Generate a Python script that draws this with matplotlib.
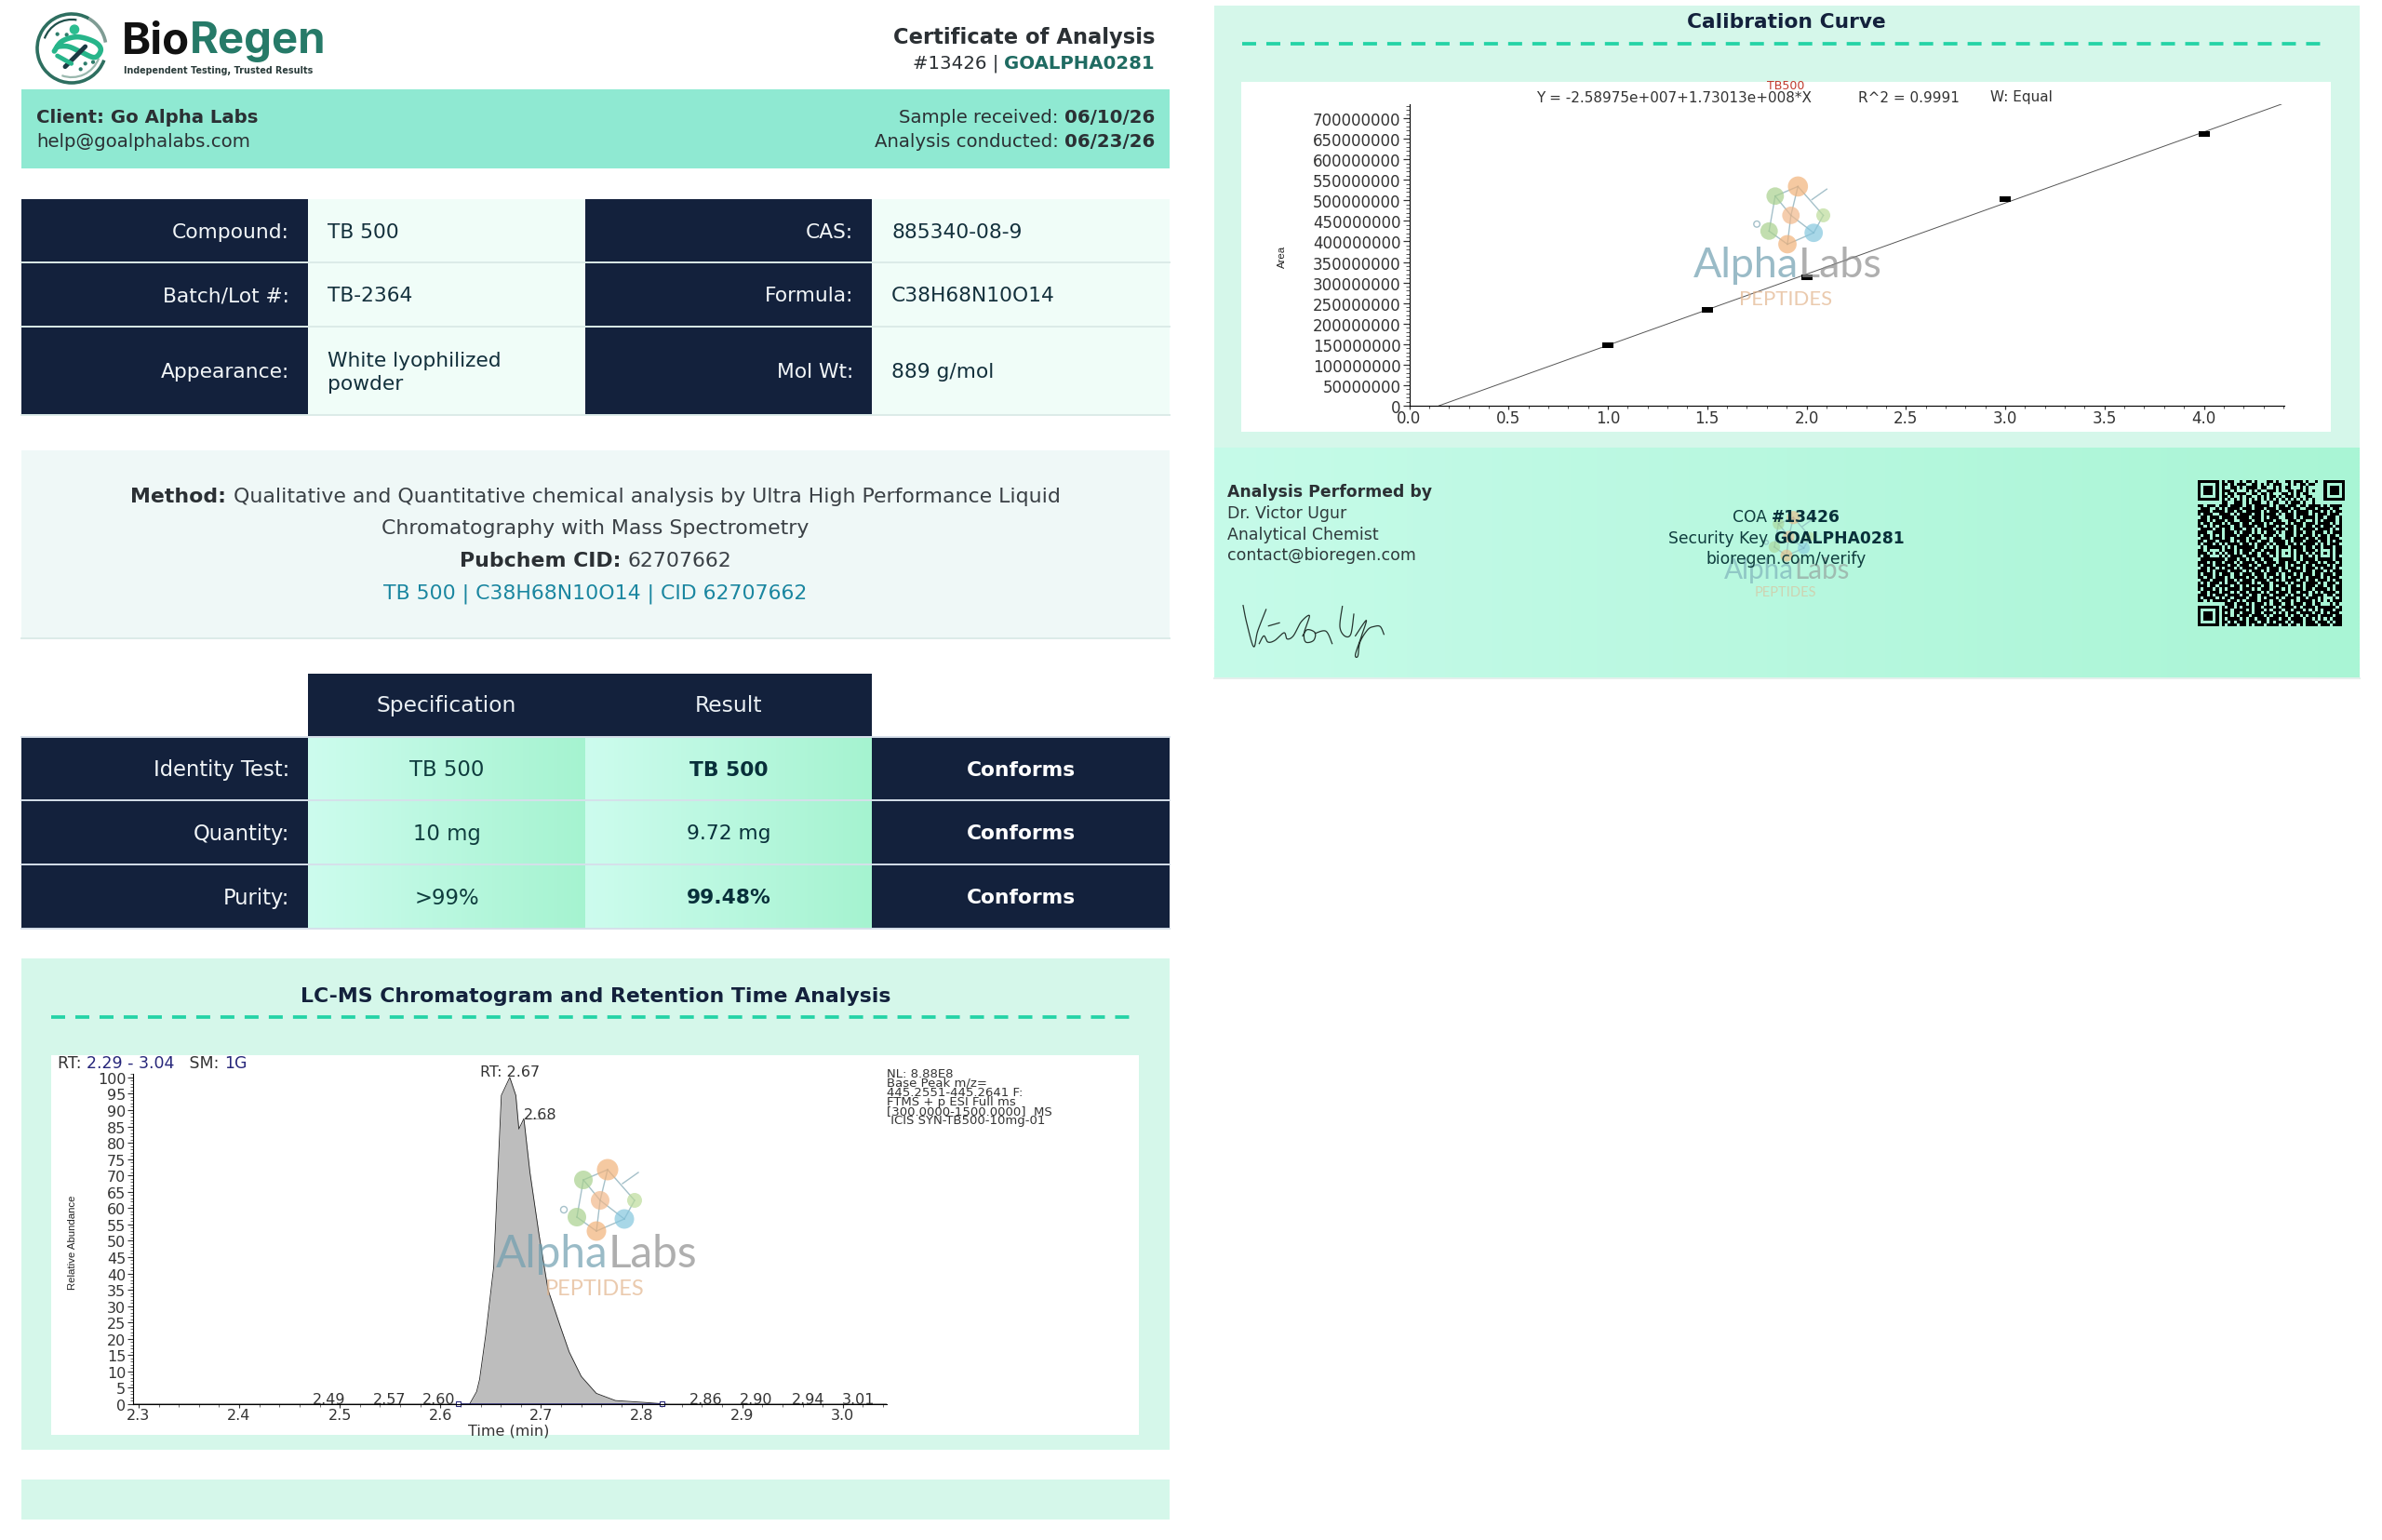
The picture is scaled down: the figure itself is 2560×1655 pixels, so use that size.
import matplotlib
matplotlib.use('Agg')
import matplotlib.pyplot as plt
import numpy as np
from matplotlib.colors import to_rgb
from matplotlib.patches import Rectangle, Circle, Arc
from matplotlib.path import Path
from matplotlib.ticker import MultipleLocator

plt.rcParams['font.family'] = ['DejaVu Sans']

NAVY = '#13213c'
INK = '#2b3034'
TEAL_TEXT = '#0f3d3e'
PANEL = '#d5f7ea'
MINT_A = '#cdfcee'
MINT_B = '#a5f3d0'
DASH = '#24d3a6'
PLOT_TEXT = '#333333'

# chromatogram
rt_min = [2.2945, 2.629, 2.636, 2.639, 2.645, 2.653, 2.6606, 2.669, 2.675, 2.678, 2.683, 2.689, 2.698,
          2.707, 2.719, 2.728, 2.74, 2.755, 2.774, 2.804, 2.826, 3.0437]
abundance = [0, 0, 3.8, 7.6, 21, 42, 94.5, 100, 94.5, 84.2, 87.4, 71, 52, 35, 24, 16, 8.5, 3.3, 1.1, 0.5, 0, 0]
rt_peak_labels = ['2.49', '2.57', '2.60', '2.86', '2.90', '2.94', '3.01']
rt_peak_pos = [2.489, 2.549, 2.598, 2.864, 2.914, 2.966, 3.016]
nl_lines = ['NL: 8.88E8', 'Base Peak m/z=', '445.2551-445.2641 F:', 'FTMS + p ESI Full ms',
            '[300.0000-1500.0000]  MS', ' ICIS SYN-TB500-10mg-01']

# calibration curve
conc = [1.0, 1.5, 2.0, 3.0, 4.0]
area = [148e6, 233e6, 313e6, 502e6, 662e6]
fit_x = [0.15, 4.39]
fit_y = [0, 734e6]

# tables
info_rows = [('Compound:', 'TB 500', 'CAS:', '885340-08-9'),
             ('Batch/Lot #:', 'TB-2364', 'Formula:', 'C38H68N10O14'),
             ('Appearance:', 'White lyophilized\npowder', 'Mol Wt:', '889 g/mol')]
test_names = ['Identity Test:', 'Quantity:', 'Purity:']
test_spec = ['TB 500', '10 mg', '>99%']
test_result = ['TB 500', '9.72 mg', '99.48%']
test_result_bold = [True, False, True]

qr_rows = [
    '........#.##..#.##.#...##.#..##.###.#..#.........',
    '........##.#.###..##.#.#.###..#.#.##.##.........',
    '........#..##.#.####.##..#.#.##...#.#...........',
    '........###.#...#.#.#..###.#..##.##.#.#.........',
    '........#.##.###..##.##.#...##.#.#.##...........',
    '........##.#..#.##..#.#.##.#.###.#..##..........',
    '........#.#.#.#.#.#.#.#.#.#.#.#.#.#.#.#.........',
    '........##..###.#.###..#.##..#.###.#..#.........',
    '##.###.###.####.##.#####.#.##.###.##.####.#.####',
    '.###..#.#.####.###.###.###.####.##..###.####.##.',
    '####.####.##.##.#####.#.###.##.#.####.###.#.#.##',
    '#.###..####.#.####.##.####.#.###.####.#.###.###.',
    '.##.###.####.####.###.#.###..###.#.####.##.###.#',
    '###.#.###.##..####.##.###.##..###.##..#.#.####.#',
    '#.##.###.#.###.##.####.#.####.#.###.###.####.#.#',
    '##.#.#.####.##.####.##.###.#.###.##.##.##.###.##',
    '.####.##.##.###.##.#.####.###.##.#.####.####.#.#',
    '###..###.###.#.###.#.#.###.#.###.##.##.###.#.###',
    '#.##.#.#.####.###.###.###.#..###.#.###.#.##.##.#',
    '.###.###.##.####.#.##..#.###.##.####.##.###.###.',
    '##.###.####.#.##.###.###.####.#.###.####.##.#.##',
    '#.###.#.#.####.##.#.###.#.###.##.#.####.#.#.###.',
    '.#.#####.#.#.######.##.#.#.###.####.##.##.###.##',
    '##.#...#.###.#.###.##.####.#...#.##.###.#...#.##',
    '###.#.#.#.##.#.##.##.##.##.#.#.#.###.#.##.#.#.##',
    '#.##...#.#.####.####.###.#.#...#.#.##.#.#...#.#.',
    '.########.###.##.#.##.###..#####.#.####.#####.##',
    '###.#.##.###.#.####.##.###.##.###.##.###.#.###.#',
    '#.###.####.##.###.##.####.###.#.###.##.####.#.##',
    '.##.##.#.###.#.####.###.###.#.###.#.###.#.###.#.',
    '###.#.####.####.#.###.#.###.##.####.##.###.#.###',
    '#.###.#.###.##.###.###.###.#.###.#.###.##.###.##',
    '##.##.###.#.####.##.##.#.###.#.###.#.####.#.###.',
    '.###.####.##.#.###.####.##.#.####.##.##.###.#.##',
    '#.#.###.#.###.####.#.###.####.#.###.####.#.###.#',
    '###.##.####.##.#.####.##.#.###.##.#.###.##.##.##',
    '#.###.#.#.####.###.#.###.###.#.####.##.####.#.##',
    '.##.###.###.#.##.####.#.##.###.##.###.#.#.####.#',
    '###.#.###.####.##.##.###.####.#.###.#.####.##.##',
    '#.####.#.##.####.###.#.###.#.####.##.###.#...#.#',
    '##.#.#####.##.#.####.###.##.###.#.####.#.#.#.###',
    '.........###.###.#.###.#.###.##.###.##.##...#.#.',
    '........#.##.#.###.##.###.#.####.#.####.######.#',
    '........###.####.#.###.#.###.##.###.#.#.#.###.##',
    '........#.#.##.###.##.###.#.#.###.####.##.#.###.',
    '........###.#.###.####.#.####.#.##.#.###.####.##',
    '........#.####.#.##.###.###.##.####.##.#.#.#.###',
    '........##.#.###.###.##.#.###.#.###.###.###.#.##',
    '........#.###.##.#.###.####.##.##.#.####.###.###',
]

sig_strokes = [
    [(48, 32), (60, 90), (82, 165), (95, 115), (122, 45)],
    [(100, 155), (115, 130), (128, 150), (150, 145), (180, 120), (190, 140), (210, 130), (235, 85),
     (262, 65), (245, 120), (250, 150), (275, 145), (280, 120), (255, 110), (240, 130)],
    [(280, 122), (315, 115), (335, 155)],
    [(368, 35), (360, 100), (375, 130), (395, 125), (405, 60)],
    [(410, 130), (445, 80), (430, 130), (410, 190), (418, 195), (425, 150), (450, 110), (470, 100),
     (490, 100), (502, 125)],
    [(130, 98), (165, 88)],
]

fig = plt.figure(figsize=(25.6, 16.56), dpi=100)
ax = fig.add_axes([0, 0, 1, 1], zorder=0)
top = fig.add_axes([0, 0, 1, 1], zorder=3)


def page_limits():
    # whole page runs one pixel low of the numbers below
    for a in (ax, top):
        a.set_xlim(0, 2560)
        a.set_ylim(1655, -1)


page_limits()
ax.axis('off')
top.axis('off')
top.patch.set_alpha(0)


def box(x0, y0, x1, y1, color, a=ax, **kw):
    a.add_patch(Rectangle((x0, y0), x1 - x0, y1 - y0, facecolor=color, edgecolor='none', **kw))


def grad(x0, y0, x1, y1, c0=MINT_A, c1=MINT_B):
    t = np.linspace(0, 1, 256)[None, :, None]
    img = (1 - t) * np.array(to_rgb(c0)) + t * np.array(to_rgb(c1))
    ax.imshow(img, extent=[x0, x1, y1, y0], aspect='auto', interpolation='bilinear', zorder=1)
    page_limits()


def put(x, y, s, size=15.7, color=INK, ha='left', weight='normal', a=ax, **kw):
    return a.text(x, y, s, fontsize=size, color=color, ha=ha, va='center', fontweight=weight, zorder=5, **kw)


def mixed(x, y, parts, size, ha='left', a=ax, **kw):
    # parts are (text, weight, color), measured so they sit side by side
    r = fig.canvas.get_renderer()
    items = [put(0, y, s, size, c, weight=w, a=a, **kw) for s, w, c in parts]
    widths = [t.get_window_extent(r).width for t in items]
    total = sum(widths)
    cur = x
    if ha == 'right':
        cur = x - total
    elif ha == 'center':
        cur = x - total / 2
    for t, w in zip(items, widths):
        t.set_x(cur)
        cur += w


def smooth(pts, n=12):
    # catmull-rom through the pen points
    p = np.array([pts[0]] + list(pts) + [pts[-1]], dtype=float)
    out = []
    for i in range(1, len(p) - 2):
        for u in np.linspace(0, 1, n, endpoint=False):
            out.append(0.5 * (2 * p[i] + (p[i + 1] - p[i - 1]) * u
                              + (2 * p[i - 1] - 5 * p[i] + 4 * p[i + 1] - p[i + 2]) * u ** 2
                              + (3 * p[i] - p[i - 1] - 3 * p[i + 1] + p[i + 2]) * u ** 3))
    out.append(p[-2])
    return np.array(out)


def watermark(cx, cy, s, alpha=0.7):
    balls = [(12, -90, 11.5, '#f2b27a'), (-14, -79, 10, '#a9d18e'), (4, -57, 10, '#f2b88a'),
             (41, -57, 8, '#bcdc9a'), (-21, -39, 10, '#a9d18e'), (30, -37, 10.5, '#84c6de'),
             (0, -24, 10.5, '#f2b27a')]
    links = [(0, 1), (0, 2), (1, 2), (1, 4), (2, 5), (4, 6), (5, 6), (2, 6), (3, 5), (0, 3)]
    for i, j in links:
        top.plot([cx + s * balls[i][0], cx + s * balls[j][0]], [cy + s * balls[i][1], cy + s * balls[j][1]],
                 color='#7fa6b3', lw=1.0, alpha=alpha, zorder=2)
    for dx, dy, r, c in balls:
        top.add_patch(Circle((cx + s * dx, cy + s * dy), r * s, facecolor=c, edgecolor='none', alpha=alpha, zorder=3))
    top.add_patch(Circle((cx - 35 * s, cy - 47 * s), 3.5 * s, facecolor='none', edgecolor='#7fa6b3', lw=1, alpha=alpha))
    top.plot([cx + 28 * s, cx + 45 * s], [cy - 75 * s, cy - 87 * s], color='#7fa6b3', lw=1, alpha=alpha)
    r = fig.canvas.get_renderer()
    size = 34.4 * s
    a1 = top.text(0, cy, 'Alpha', fontsize=size, color='#6f9fb0', alpha=alpha, va='center', family='Lato')
    a2 = top.text(0, cy, 'Labs', fontsize=size, color='#8d8d8d', alpha=alpha, va='center', family='Lato')
    w1 = a1.get_window_extent(r).width
    w2 = a2.get_window_extent(r).width
    a1.set_x(cx - (w1 + w2) / 2)
    a2.set_x(cx - (w1 + w2) / 2 + w1)
    top.text(cx - 2 * s, cy + 38 * s, 'PEPTIDES', fontsize=17 * s, color='#e2b48c', alpha=alpha,
             ha='center', va='center', family='Lato')


# logo
lx, ly = 77, 52
ax.add_patch(Arc((lx, ly), 74, 74, theta1=20, theta2=300, color='#2e6f60', lw=2.6))
ax.add_patch(Arc((lx, ly), 74, 74, theta1=300, theta2=350, color='#7f9c94', lw=2.6))
ax.add_patch(Arc((lx, ly), 62, 62, theta1=200, theta2=280, color='#1f4f4a', lw=1.6))
ax.add_patch(Arc((lx, ly), 62, 62, theta1=20, theta2=110, color='#9ab8ae', lw=1.6))
band = smooth([(85, 150), (110, 118), (160, 104), (215, 120), (235, 145), (215, 170), (170, 152), (130, 135), (95, 135)])
ax.plot(band[:, 0] / 3 + 30, band[:, 1] / 3 + 5, color='#27b58a', lw=4, solid_capstyle='round')
ax.plot(np.array([120, 185]) / 3 + 30, np.array([200, 135]) / 3 + 5, color='#1c3a43', lw=3.5, solid_capstyle='round')
ax.plot(np.array([95, 140]) / 3 + 30, np.array([165, 190]) / 3 + 5, color='#27b58a', lw=3.5, solid_capstyle='round')
ax.add_patch(Circle((150 / 3 + 30, 80 / 3 + 5), 4.6, color='#2cbd90'))
for dx, dy in [(95, 95), (125, 97), (185, 190), (210, 185), (170, 208)]:
    ax.add_patch(Circle((dx / 3 + 30, dy / 3 + 5), 1.4, color='#2e7d6b'))
mixed(131, 44, [('Bio', 'bold', '#111111'), ('Regen', 'bold', '#267a68')], 34, family='Inter')
mixed(133, 75, [('Independent Testing, Trusted Results', 'bold', '#2a3b3a')], 6.9)

# header right
put(1241, 39, 'Certificate of Analysis', 16.3, INK, 'right', 'bold')
mixed(1241, 67, [('#13426 | ', 'normal', INK), ('GOALPHA0281', 'bold', '#1f6b62')], 14.2, 'right')

# client banner
box(23, 96, 1257, 181, '#8fe9d2')
put(39, 126, 'Client: Go Alpha Labs', 14.2, INK, weight='bold')
put(39, 152, 'help@goalphalabs.com', 14.2)
mixed(1241, 126, [('Sample received: ', 'normal', INK), ('06/10/26', 'bold', INK)], 14.2, 'right')
mixed(1241, 152, [('Analysis conducted: ', 'normal', INK), ('06/23/26', 'bold', INK)], 14.2, 'right')

# info table
col = [23, 331, 629, 937, 1257]
rows = [214, 282, 351, 446]
box(col[1], rows[0], col[2], rows[-1], '#f0fdf8')
box(col[3], rows[0], col[4], rows[-1], '#f0fdf8')
box(col[0], rows[0], col[1], rows[-1], NAVY)
box(col[2], rows[0], col[3], rows[-1], NAVY)
for i, (k1, v1, k2, v2) in enumerate(info_rows):
    y = (rows[i] + rows[i + 1]) / 2 + 1
    put(col[1] - 20, y, k1, color='#f2f6f8', ha='right')
    put(col[1] + 21, y, v1, color='#13303c', linespacing=1.35)
    put(col[3] - 20, y, k2, color='#f2f6f8', ha='right')
    put(col[3] + 21, y, v2, color='#13303c')
for y in rows[1:]:
    ax.plot([col[0], col[-1]], [y, y], color='#dcebe8', lw=1.4, zorder=2)

# method box
box(23, 484, 1257, 686, '#eff8f7')
ax.plot([23, 1257], [686, 686], color='#dcebe8', lw=1.4)
mixed(640, 533, [('Method: ', 'bold', INK),
                 ('Qualitative and Quantitative chemical analysis by Ultra High Performance Liquid', 'normal', '#3a4045')],
      15.8, 'center')
put(640, 567, 'Chromatography with Mass Spectrometry', 15.8, '#3a4045', 'center')
mixed(640, 602, [('Pubchem CID: ', 'bold', INK), ('62707662', 'normal', '#3a4045')], 15.8, 'center')
put(640, 637, 'TB 500 | C38H68N10O14 | CID 62707662', 15.8, '#1a86a0', 'center')

# results table
t_rows = [792, 860, 929, 998]
box(col[1], 724, col[3], 792, NAVY)
put((col[1] + col[2]) / 2, 758, 'Specification', 16.8, '#e9eff3', 'center')
put((col[2] + col[3]) / 2, 758, 'Result', 16.8, '#e9eff3', 'center')
box(col[0], t_rows[0], col[1], t_rows[-1], NAVY)
box(col[3], t_rows[0], col[4], t_rows[-1], NAVY)
for i in range(3):
    y0, y1 = t_rows[i], t_rows[i + 1]
    grad(col[1], y0, col[2], y1)
    grad(col[2], y0, col[3], y1)
    y = (y0 + y1) / 2 + 1
    put(col[1] - 20, y, test_names[i], 16.3, '#f2f6f8', 'right')
    put((col[1] + col[2]) / 2, y, test_spec[i], 16.4, TEAL_TEXT, 'center')
    put((col[2] + col[3]) / 2, y, test_result[i], 15.7, '#08303a', 'center',
        weight='bold' if test_result_bold[i] else 'normal')
    put((col[3] + col[4]) / 2, y, 'Conforms', color='#ffffff', ha='center', weight='bold')
for y in t_rows:
    ax.plot([col[0], col[-1]], [y, y], color='#d6e0ea', lw=1.4, zorder=3)

# LC-MS panel
box(23, 1030, 1257, 1558, PANEL)
put(640, 1070, 'LC-MS Chromatogram and Retention Time Analysis', 15.8, NAVY, 'center', 'bold')
ax.plot([55, 1217], [1093, 1093], color=DASH, lw=2.7, dashes=(4, 2.93), dash_capstyle='butt')
box(55, 1134, 1224, 1542, '#ffffff')
box(23, 1590, 1257, 1633, PANEL)

# right column
box(1305, 6, 2536, 482, PANEL)
put(1920, 23, 'Calibration Curve', 15.7, NAVY, 'center', 'bold')
ax.plot([1335, 2497], [47, 47], color=DASH, lw=2.7, dashes=(4, 2.93), dash_capstyle='butt')
box(1334, 88, 2505, 464, '#ffffff')
grad(1305, 482, 2536, 728, '#c6fbe9', '#a9f5d5')
ax.plot([1305, 2536], [729, 729], color='#e4efec', lw=1.4)

put(1319, 528, 'Analysis Performed by', 12.4, INK, weight='bold')
put(1319, 551, 'Dr. Victor Ugur', 12.5, '#2f3a3c')
put(1319, 574, 'Analytical Chemist', 12.5, '#2f3a3c')
put(1319, 596, 'contact@bioregen.com', 12.5, '#2f3a3c')
mixed(1920, 555, [('COA ', 'normal', TEAL_TEXT), ('#13426', 'bold', '#08303a')], 12.3, 'center', a=top)
mixed(1920, 578, [('Security Key ', 'normal', TEAL_TEXT), ('GOALPHA0281', 'bold', '#08303a')], 12.3, 'center', a=top)
put(1920, 600, 'bioregen.com/verify', 12.3, TEAL_TEXT, 'center', a=top)

for stroke in sig_strokes:
    pts = smooth(stroke)
    ax.plot(pts[:, 0] / 3 + 1320, pts[:, 1] / 3 + 640, color='#26352f', lw=0.9, zorder=4)

# qr code, finder squares stamped on the typed body
n = 49
qr = np.array([[c == '#' for c in r.ljust(n, '.')[:n]] for r in qr_rows])
for fy, fx in [(0, 0), (0, n - 7), (n - 7, 0)]:
    qr[fy:fy + 7, fx:fx + 7] = True
    qr[fy + 1:fy + 6, fx + 1:fx + 6] = False
    qr[fy + 2:fy + 5, fx + 2:fx + 5] = True
ax.imshow(np.ma.masked_where(~qr, qr), cmap='gray_r', vmin=0, vmax=1, extent=[2362, 2520, 673, 517],
          aspect='auto', interpolation='nearest', zorder=4)
page_limits()

# chromatogram axes
W, H = 2560, 1656
cx = fig.add_axes([143 / W, 1 - 1510 / H, (953 - 143) / W, (1510 - 1155) / H], zorder=1)
cx.patch.set_alpha(0)
cx.fill_between(rt_min, abundance, color='#bdbdbd', lw=0)
cx.plot(rt_min, abundance, color='#222222', lw=0.6)
cx.plot([2.62, 2.82], [0.12, 0.12], color='#2a2a78', lw=1.1)
cx.plot([2.617, 2.82], [0.35, 0.35], ls='none', marker='s', ms=3.6, mfc='white', mec='#2a2a78', mew=0.8, clip_on=False)
cx.plot([2.683, 2.71], [87.4, 87.4], color='#aaaaaa', lw=0.8)
cx.set_xlim(rt_min[0], rt_min[-1])
cx.set_ylim(0, 101.1)
cx.xaxis.set_major_locator(MultipleLocator(0.1))
cx.xaxis.set_minor_locator(MultipleLocator(0.02))
cx.yaxis.set_major_locator(MultipleLocator(5))
cx.yaxis.set_minor_locator(MultipleLocator(1))
cx.tick_params(which='major', length=4.5, width=0.8, labelsize=11.5, pad=1, color=PLOT_TEXT, labelcolor=PLOT_TEXT)
cx.tick_params(which='minor', length=2.5, width=0.6, color='#555555')
cx.tick_params(axis='x', which='major', length=3, pad=0)
cx.tick_params(axis='x', which='minor', length=1.8)
cx.spines[['top', 'right']].set_visible(False)
for lab, pos in zip(rt_peak_labels, rt_peak_pos):
    cx.text(pos, 0.3, lab, fontsize=11.5, color=PLOT_TEXT, ha='center', va='baseline')
cx.text(2.6694, 99.8, 'RT: 2.67', fontsize=11.5, color=PLOT_TEXT, ha='center', va='bottom', clip_on=False)
cx.text(2.699, 86.6, '2.68', fontsize=11.5, color=PLOT_TEXT, ha='center', va='bottom')
put(547, 1537, 'Time (min)', 11.5, PLOT_TEXT, 'center')
put(78, 1334, 'Relative Abundance', 8.2, '#222222', 'center', rotation=90, rotation_mode='anchor', family='Liberation Sans')
mixed(62, 1142, [('RT: ', 'normal', PLOT_TEXT), ('2.29 - 3.04', 'normal', '#26267a'),
                 ('   SM: ', 'normal', PLOT_TEXT), ('1G', 'normal', '#26267a')], 12.5)
ax.text(953, 1147, '\n'.join(nl_lines), fontsize=9.5, color=PLOT_TEXT, va='top', linespacing=0.7, zorder=5)

# calibration axes
kx = fig.add_axes([1514.5 / W, 1 - 437 / H, (2455 - 1514.5) / W, (437 - 113) / H], zorder=1)
kx.patch.set_alpha(0)
kx.plot(fit_x, fit_y, color='#555555', lw=0.7)
marker = Path([(-1.1, -0.55), (1.1, -0.55), (1.1, 0.55), (-1.1, 0.55), (-1.1, -0.55)])
kx.scatter(conc, area, marker=marker, s=80, color='black', zorder=3, linewidths=0)
kx.set_xlim(0, 4.405)
kx.set_ylim(0, 734e6)
kx.xaxis.set_major_locator(MultipleLocator(0.5))
kx.xaxis.set_minor_locator(MultipleLocator(0.1))
kx.yaxis.set_major_locator(MultipleLocator(50e6))
kx.yaxis.set_minor_locator(MultipleLocator(10e6))
kx.yaxis.set_major_formatter(lambda v, p: f'{v:.0f}')
kx.tick_params(which='major', length=5, width=0.9, labelsize=12, pad=1.5, color=PLOT_TEXT, labelcolor=PLOT_TEXT)
kx.tick_params(which='minor', length=3, width=0.7, color='#555555')
kx.tick_params(axis='x', which='major', length=3, pad=0)
kx.tick_params(axis='x', which='minor', length=1.8)
kx.spines[['top', 'right']].set_visible(False)
put(1919, 91, 'TB500', 9, '#c0392b', 'center')
put(1799, 104, 'Y = -2.58975e+007+1.73013e+008*X', 11, PLOT_TEXT, 'center')
put(2051, 104, 'R^2 = 0.9991', 11, PLOT_TEXT, 'center')
put(2172, 104, 'W: Equal', 11, PLOT_TEXT, 'center')
put(1378, 275, 'Area', 8.2, '#222222', 'center', rotation=90, rotation_mode='anchor', family='Liberation Sans')

# watermarks over the plots
watermark(641, 1347, 1.0)
watermark(1921, 285, 0.94)
watermark(1920, 612, 0.62, alpha=0.55)

fig.savefig('out.png', dpi=100)
